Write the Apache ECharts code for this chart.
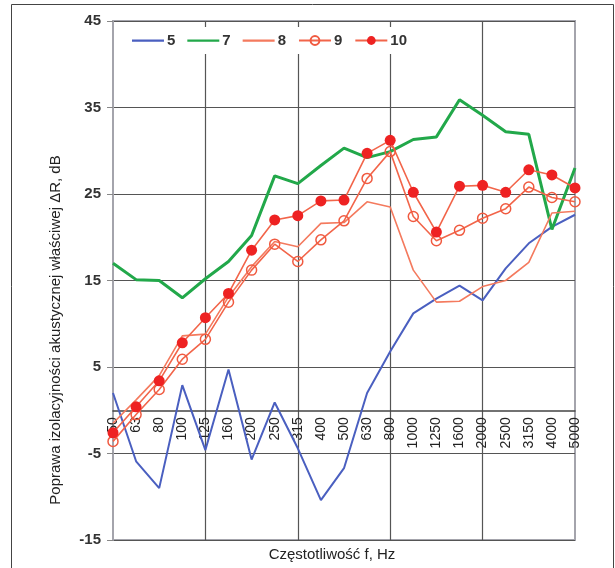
<!DOCTYPE html>
<html>
<head>
<meta charset="utf-8">
<script src="https://cdn.jsdelivr.net/npm/echarts@6/dist/echarts.min.js"></script>
<style>
html,body{margin:0;padding:0;background:#fff;}
#chart{width:615px;height:568px;}
</style>
</head>
<body>
<div id="chart"></div>
<script>
const categories = ['50','63','80','100','125','160','200','250','315','400','500','630','800','1000','1250','1600','2000','2500','3150','4000','5000'];
const seriesNames = ['5','7','8','9','10'];
const s5  = [2.0, -5.9, -9.0, 2.9, -4.6, 4.7, -5.7, 0.9, -4.4, -10.4, -6.7, 2.0, 6.8, 11.2, 12.9, 14.4, 12.7, 16.4, 19.3, 21.2, 22.6];
const s7  = [17.0, 15.1, 15.0, 13.0, 15.2, 17.2, 20.2, 27.1, 26.2, 28.3, 30.3, 29.2, 29.9, 31.3, 31.6, 35.9, 34.1, 32.2, 31.9, 20.9, 28.0];
const s8  = [-1.5, 1.2, 4.0, 8.6, 8.8, 13.1, 16.6, 19.5, 18.9, 21.6, 21.7, 24.1, 23.5, 16.2, 12.5, 12.6, 14.3, 15.0, 17.1, 22.8, 23.0];
const s9  = [-3.6, -0.5, 2.4, 5.9, 8.2, 12.5, 16.2, 19.2, 17.2, 19.7, 21.9, 26.8, 29.9, 22.4, 19.6, 20.8, 22.2, 23.3, 25.8, 24.6, 24.1];
const s10 = [-2.6, 0.4, 3.4, 7.8, 10.7, 13.5, 18.5, 22.0, 22.5, 24.2, 24.3, 29.7, 31.2, 25.2, 20.6, 25.9, 26.0, 25.2, 27.8, 27.2, 25.7];
const yTickLabels = ['-15','-5','5','15','25','35','45'];
const yMin = -15, yMax = 45;
const xAxisName = 'Częstotliwość f, Hz';
const yAxisName = 'Poprawa izolacyjności akustycznej właściwej ΔR, dB';

const FONT = '"Liberation Sans", Arial, sans-serif';
const W = 615, H = 568;
const GRID = {left: 113, right: 40, top: 21, bottom: 28};
const plotH = H - GRID.top - GRID.bottom;
// place category axis where the value axis crosses zero
const xAxisOffset = -plotH * (0 - yMin) / (yMax - yMin);
const lineIcon = 'path://M0,4.5 H32 V6.8 H0 Z M0,0 H0.01 V0.01 H0 Z M0,11 H0.01 V11.01 H0 Z';

const chart = echarts.init(document.getElementById('chart'), null, {renderer: 'canvas', width: W, height: H});

const option = {
  animation: false,
  backgroundColor: '#fff',
  textStyle: {fontFamily: FONT},
  grid: Object.assign({show: true, borderColor: '#a4a4ac', borderWidth: 2, containLabel: false, outerBoundsMode: 'none'}, GRID),
  legend: {
    data: [
      {name: '5', icon: lineIcon},
      {name: '7', icon: lineIcon},
      {name: '8', icon: lineIcon},
      {name: '9'},
      {name: '10'}
    ],
    left: 124, top: 27,
    padding: [6, 8],
    backgroundColor: '#fff',
    itemWidth: 32, itemHeight: 11, itemGap: 12,
    textStyle: {fontFamily: FONT, fontSize: 15, fontWeight: 'bold', color: '#333', padding: [0,0,0,-2]}
  },
  xAxis: {
    type: 'category',
    data: categories,
    boundaryGap: false,
    position: 'bottom',
    offset: xAxisOffset,
    axisLine: {onZero: false, lineStyle: {color: '#444', width: 1.5}},
    axisTick: {show: false},
    axisLabel: {interval: 0, rotate: 90, margin: 7, fontSize: 14, fontFamily: FONT, color: '#222'},
    splitLine: {show: true, interval: function (i) { return i % 4 === 0 && i > 0 && i < categories.length - 1; }, lineStyle: {color: '#555', width: 1.2}}
  },
  yAxis: [
    {type: 'value', min: yMin, max: yMax, show: false},
    {
      type: 'value', position: 'left', min: 0, max: yMax - yMin, interval: 10,
      axisLine: {show: true, lineStyle: {color: '#a4a4ac', width: 2}},
      axisTick: {show: true, length: 6, lineStyle: {color: '#888'}},
      axisLabel: {margin: 12, fontSize: 15, fontWeight: 'bold', fontFamily: FONT, color: '#333',
        formatter: function (v) { return yTickLabels[Math.round(v / 10)]; }},
      splitLine: {show: true, lineStyle: {color: '#555', width: 1.2}}
    }
  ],
  graphic: [
    {type: 'rect', shape: {x: 11.5, y: 4.5, width: 602, height: 700}, style: {fill: 'none', stroke: '#444', lineWidth: 1}, silent: true, z: 100},
    {type: 'text', x: 56, y: 330, rotation: Math.PI / 2,
      style: {text: yAxisName, font: '15px ' + FONT, fill: '#222', textAlign: 'center', textVerticalAlign: 'middle'}},
    {type: 'text', x: 332, y: 555,
      style: {text: xAxisName, font: '15px ' + FONT, fill: '#222', textAlign: 'center', textVerticalAlign: 'middle'}}
  ],
  series: [
    {name: '5', type: 'line', yAxisIndex: 0, data: s5, symbol: 'none', color: '#4a5fc0', lineStyle: {color: '#4a5fc0', width: 2}},
    {name: '7', type: 'line', yAxisIndex: 0, data: s7, symbol: 'none', color: '#22a84a', lineStyle: {color: '#22a84a', width: 3}},
    {name: '8', type: 'line', yAxisIndex: 0, data: s8, symbol: 'none', color: '#f47a5e', lineStyle: {color: '#f47a5e', width: 1.6}},
    {name: '9', type: 'line', yAxisIndex: 0, data: s9, symbol: 'circle', symbolSize: 10,
      itemStyle: {color: 'rgba(255,255,255,0)', borderColor: '#f05a40', borderWidth: 1.5},
      lineStyle: {color: '#f2654a', width: 1.6}},
    {name: '10', type: 'line', yAxisIndex: 0, data: s10, symbol: 'circle', symbolSize: 11,
      itemStyle: {color: '#ee2222', borderColor: '#ee2222', borderWidth: 0},
      lineStyle: {color: '#f2654a', width: 1.6}}
  ]
};
chart.setOption(option);
</script>
</body>
</html>
